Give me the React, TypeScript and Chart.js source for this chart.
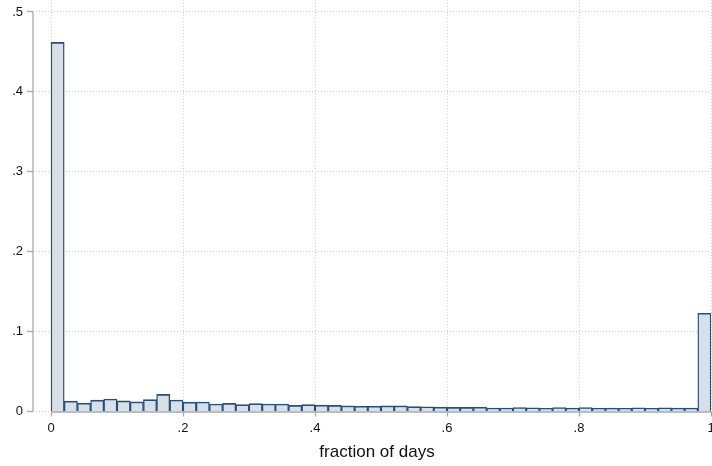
import { useEffect, useRef } from "react";
import { Chart, registerables } from "chart.js";

Chart.register(...registerables);

// Histogram: 50 bins of width 0.02 on [0, 1]
const BIN_WIDTH = 0.02;
const BIN_STARTS = Array.from({ length: 50 }, (_, i) => i * BIN_WIDTH);
const FRACTIONS = [
  0.462, 0.0129, 0.0104, 0.0142, 0.0157, 0.0132, 0.0121, 0.0148, 0.0215, 0.0144,
  0.0117, 0.0119, 0.0094, 0.0102, 0.0086, 0.0098, 0.0094, 0.0094, 0.0078, 0.0086,
  0.008, 0.0076, 0.0071, 0.0066, 0.0066, 0.0071, 0.0071, 0.0062, 0.006, 0.0056,
  0.0052, 0.0052, 0.0054, 0.0044, 0.0044, 0.005, 0.0046, 0.004, 0.005, 0.0042,
  0.005, 0.004, 0.0042, 0.004, 0.0046, 0.004, 0.0046, 0.0042, 0.0042, 0.123,
];
const X_TICKS = [0, 0.2, 0.4, 0.6, 0.8, 1];
const X_TICK_LABELS = ["0", ".2", ".4", ".6", ".8", "1"];
const Y_TICKS = [0, 0.1, 0.2, 0.3, 0.4, 0.5];
const Y_TICK_LABELS = ["0", ".1", ".2", ".3", ".4", ".5"];
const X_TITLE = "fraction of days";

const X_MIN = -0.0273;
const Y_MAX = 0.515;
const FONT = "'Liberation Sans', Arial, Helvetica, sans-serif";
const AXIS_COLOR = "#a9a9a9";
const GRID_COLOR = "#cfcfcf";
const BAR_FILL = "#d7dfe8";
const BAR_EDGE = "#284f75";

const zeroPad = (s: any) => {
  s.paddingTop = 0;
  s.paddingBottom = 0;
  s.paddingLeft = 0;
  s.paddingRight = 0;
};

export default function App() {
  const ref = useRef<HTMLCanvasElement>(null);

  useEffect(() => {
    document.body.style.margin = "0";
    const canvas = ref.current;
    if (!canvas) return;

    const points = FRACTIONS.map((v, i) => ({ x: BIN_STARTS[i] + BIN_WIDTH / 2, y: v }));

    const stataAxes = {
      id: "stataAxes",
      beforeDatasetsDraw(chart: any) {
        const { ctx, scales, chartArea } = chart;
        const x = scales.x;
        const y = scales.y;
        ctx.save();
        ctx.strokeStyle = AXIS_COLOR;
        ctx.lineWidth = 1.3;
        ctx.beginPath();
        ctx.moveTo(chartArea.left, y.getPixelForValue(0));
        ctx.lineTo(chartArea.left, y.getPixelForValue(Y_TICKS[Y_TICKS.length - 1]));
        ctx.moveTo(x.getPixelForValue(X_TICKS[0]), y.getPixelForValue(0) + 0.5);
        ctx.lineTo(x.getPixelForValue(X_TICKS[X_TICKS.length - 1]), y.getPixelForValue(0) + 0.5);
        ctx.stroke();
        ctx.restore();
      },
      afterDraw(chart: any) {
        const { ctx, scales } = chart;
        const x = scales.x;
        const cx = (x.getPixelForValue(0) + x.getPixelForValue(1)) / 2;
        ctx.save();
        ctx.fillStyle = "#111";
        ctx.font = `17px ${FONT}`;
        ctx.textAlign = "center";
        ctx.textBaseline = "alphabetic";
        ctx.fillText(X_TITLE, cx - 4, 457);
        ctx.restore();
      },
    };

    const chart = new Chart(canvas, {
      type: "bar",
      data: {
        datasets: [
          {
            data: points,
            backgroundColor: BAR_FILL,
            borderColor: BAR_EDGE,
            borderWidth: { top: 1.7, left: 1.4, right: 1.4, bottom: 0 },
            barPercentage: 1,
            categoryPercentage: 1,
          },
        ],
      },
      options: {
        animation: false,
        responsive: false,
        devicePixelRatio: 1,
        layout: { padding: { left: 0, right: 1, top: 0, bottom: 0 }, autoPadding: false },
        plugins: { legend: { display: false }, tooltip: { enabled: false } },
        scales: {
          x: {
            type: "linear",
            min: X_MIN,
            max: 1,
            offset: false,
            afterFit: (s: any) => {
              s.height = 54.5;
              zeroPad(s);
            },
            afterBuildTicks: (s: any) => {
              s.ticks = X_TICKS.map((v) => ({ value: v }));
            },
            grid: {
              display: true,
              offset: false,
              color: GRID_COLOR,
              lineWidth: 1,
              drawTicks: true,
              tickLength: 5,
              tickColor: AXIS_COLOR,
              tickWidth: 1.3,
              tickBorderDash: [],
            },
            border: { display: false, dash: [1, 2] },
            ticks: {
              autoSkip: false,
              maxRotation: 0,
              padding: 4,
              color: "#111",
              font: { size: 13, family: FONT },
              callback: (_v: any, i: number) => X_TICK_LABELS[i],
            },
          },
          y: {
            type: "linear",
            min: 0,
            max: Y_MAX,
            afterFit: (s: any) => {
              s.width = 33;
              zeroPad(s);
            },
            afterBuildTicks: (s: any) => {
              s.ticks = Y_TICKS.map((v) => ({ value: v }));
            },
            grid: {
              display: true,
              color: GRID_COLOR,
              lineWidth: 1,
              drawTicks: true,
              tickLength: 6,
              tickColor: AXIS_COLOR,
              tickWidth: 1.3,
              tickBorderDash: [],
            },
            border: { display: false, dash: [1, 2] },
            ticks: {
              autoSkip: false,
              padding: 4,
              color: "#111",
              font: { size: 13, family: FONT },
              callback: (_v: any, i: number) => Y_TICK_LABELS[i],
            },
          },
        },
      },
      plugins: [stataAxes],
    } as any);

    return () => chart.destroy();
  }, []);

  return (
    <div style={{ position: "absolute", left: 0, top: 0 }}>
      <canvas ref={ref} width={712} height={466} style={{ display: "block", width: 712, height: 466 }} />
    </div>
  );
}
